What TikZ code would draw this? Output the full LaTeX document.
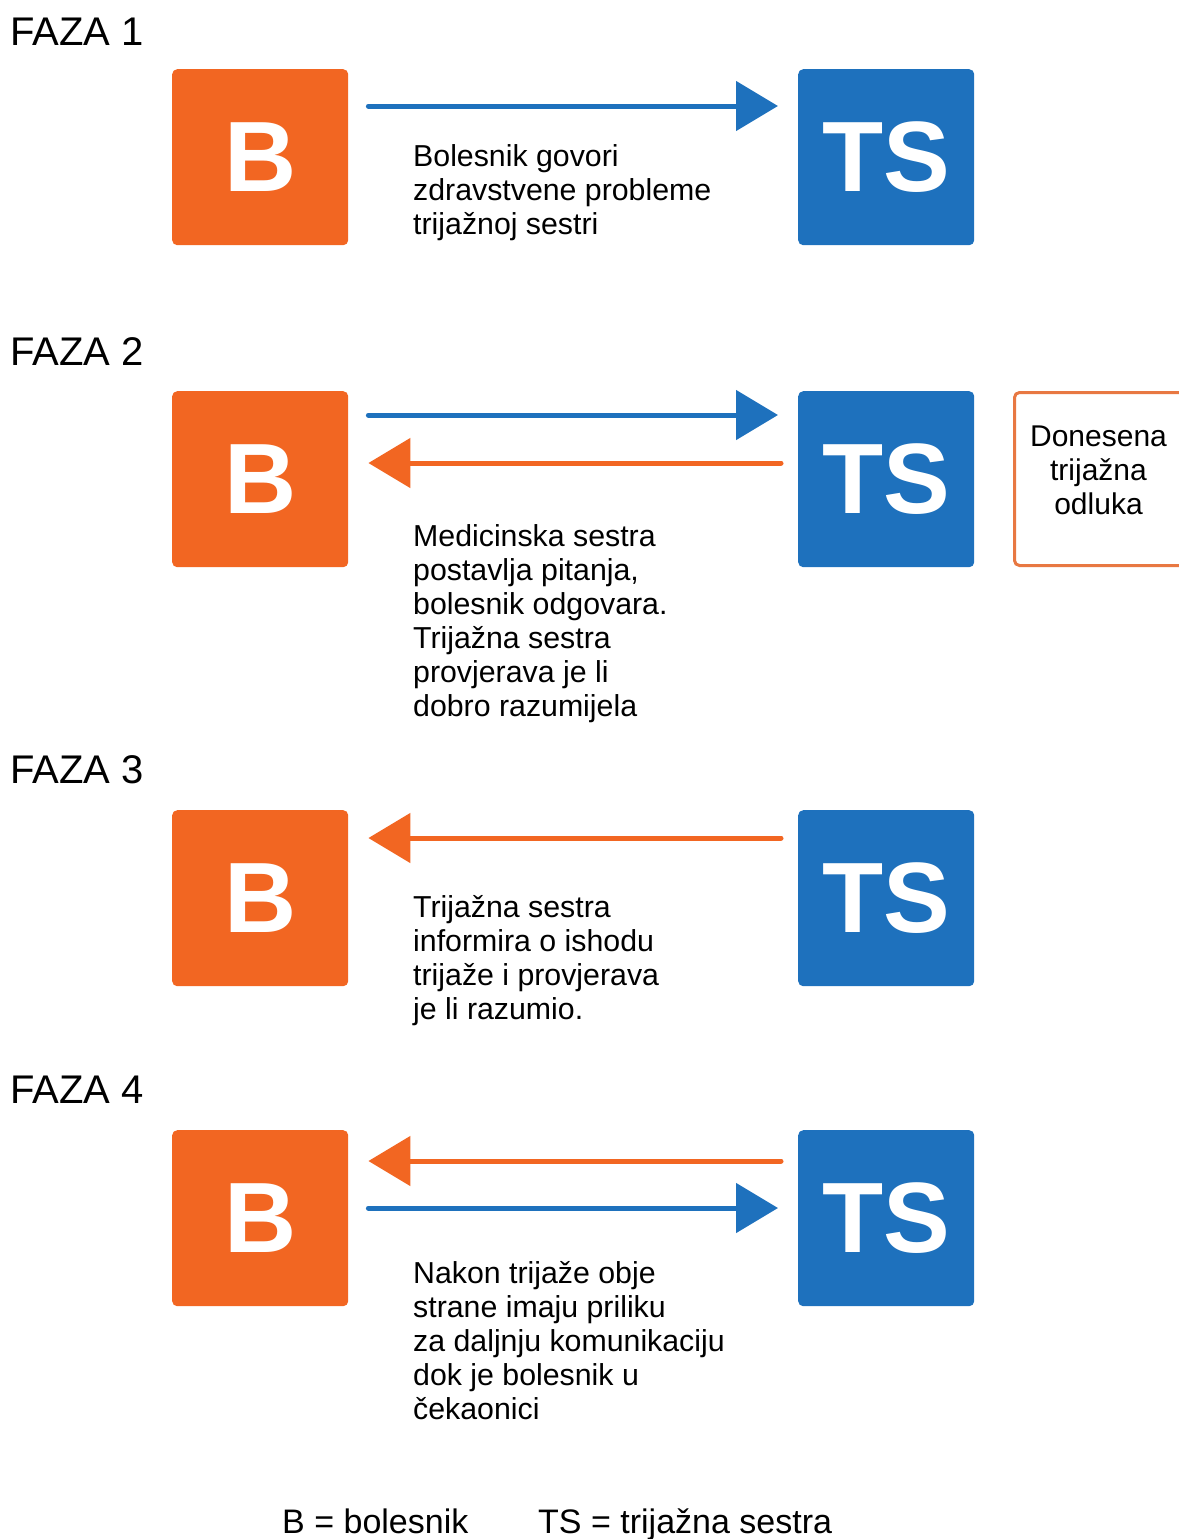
\documentclass[tikz,border=0pt]{standalone}
\usepackage{fontspec}
\setmainfont{Liberation Sans}
\usetikzlibrary{arrows.meta}
\definecolor{borange}{RGB}{242,102,34}
\definecolor{tsblue}{RGB}{30,113,189}
\definecolor{boxline}{RGB}{232,120,66}
\begin{document}
\begin{tikzpicture}[x=1pt,y=-1pt,
  bbox/.style={fill=borange, rounded corners=5pt, minimum width=176pt, minimum height=176pt, inner sep=0pt, text=white, font=\fontsize{100}{100}\selectfont\bfseries, anchor=north west},
  tsbox/.style={bbox, fill=tsblue},
  barrow/.style={draw=tsblue, line width=5pt, line cap=round, -{Triangle[length=42pt,width=49pt]}},
  oarrow/.style={draw=borange, line width=5pt, line cap=round, -{Triangle[length=42pt,width=49pt]}},
  body/.style={anchor=north west, align=left, inner sep=0pt, font=\fontsize{30.3}{34}\selectfont},
  faza/.style={anchor=base west, inner sep=0pt, font=\fontsize{40}{40}\selectfont},
  legend/.style={anchor=base west, inner sep=0pt, font=\fontsize{34}{34}\selectfont}]
\useasboundingbox (0,0) rectangle (1178,1539);

% phase labels
\node[faza] (f1) at (10,45) {FAZA 1};
\node[faza] (f2) at (10,365) {FAZA 2};
\node[faza] (f3) at (10,783) {FAZA 3};
\node[faza] (f4) at (10,1103) {FAZA 4};

% boxes
\node[bbox] (B1) at (172,69) {B};
\node[tsbox] (TS1) at (798,69) {TS};
\node[bbox] (B2) at (172,391) {B};
\node[tsbox] (TS2) at (798,391) {TS};
\node[bbox] (B3) at (172,810) {B};
\node[tsbox] (TS3) at (798,810) {TS};
\node[bbox] (B4) at (172,1130) {B};
\node[tsbox] (TS4) at (798,1130) {TS};

% arrows
\draw[barrow] ([shift={(20,37)}]B1.north east) -- ([shift={(-20,37)}]TS1.north west);
\draw[barrow] ([shift={(20,24)}]B2.north east) -- ([shift={(-20,24)}]TS2.north west);
\draw[oarrow] ([shift={(-17,72)}]TS2.north west) -- ([shift={(20,72)}]B2.north east);
\draw[oarrow] ([shift={(-17,28)}]TS3.north west) -- ([shift={(20,28)}]B3.north east);
\draw[oarrow] ([shift={(-17,31)}]TS4.north west) -- ([shift={(20,31)}]B4.north east);
\draw[barrow] ([shift={(20,78)}]B4.north east) -- ([shift={(-20,78)}]TS4.north west);

% texts
\node[body] (t1) at (413,144) {Bolesnik govori\\zdravstvene probleme\\trijažnoj sestri};
\node[body] (t2) at (413,524) {Medicinska sestra\\postavlja pitanja,\\bolesnik odgovara.\\Trijažna sestra\\provjerava je li\\dobro razumijela};
\node[body] (t3) at (413,895) {Trijažna sestra\\informira o ishodu\\trijaže i provjerava\\je li razumio.};
\node[body] (t4) at (413,1261) {Nakon trijaže obje\\strane imaju priliku\\za daljnju komunikaciju\\dok je bolesnik u\\čekaonici};

% decision box
\node[draw=boxline, line width=3pt, rounded corners=5pt, minimum width=171pt, minimum height=173pt, anchor=north west, inner sep=0pt] (dec) at (1013,391) {};
\node[align=center, inner sep=0pt, font=\fontsize{30}{34}\selectfont] (dect) at (1098.5,470) {Donesena\\trijažna\\odluka};

% legend
\node[legend] (leg1) at (282,1533) {B = bolesnik};
\node[legend] (leg2) at (538,1533) {TS = trijažna sestra};
\end{tikzpicture}
\end{document}
